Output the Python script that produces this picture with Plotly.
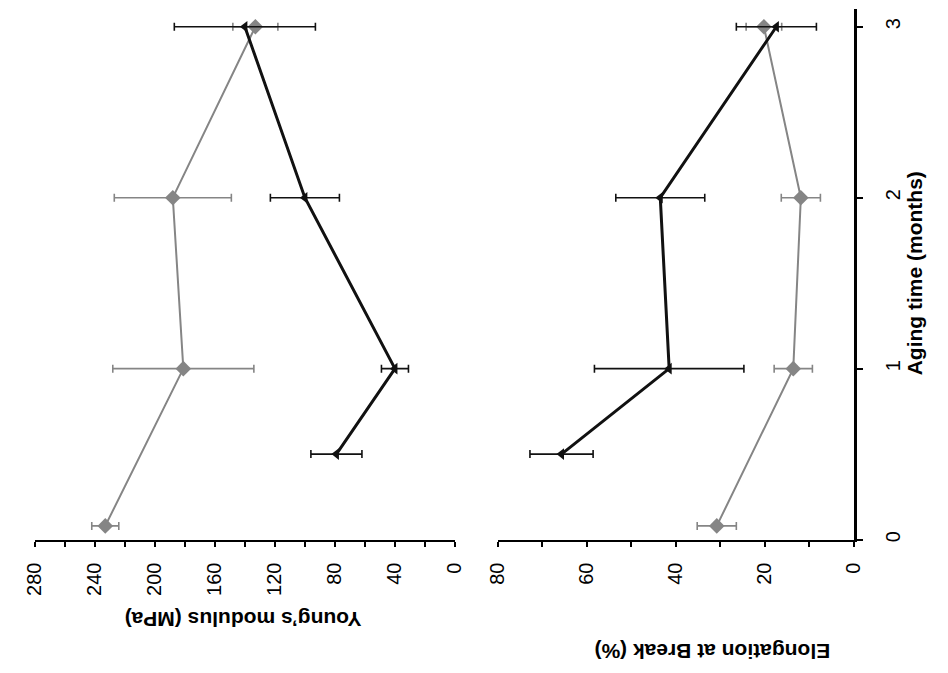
import plotly.graph_objects as go

# Aging time (months) for each series
t_gray = [0.08, 1, 2, 3]
t_black = [0.5, 1, 2, 3]

# Young's modulus (MPa) with standard deviations
ym_gray = [233, 181, 188, 133]
ym_gray_err = [9, 47, 39, 15]
ym_black = [79, 40, 100, 140]
ym_black_err = [17, 9, 23, 47]

# Elongation at break (%) with standard deviations
eb_gray = [30.8, 13.6, 11.9, 20.2]
eb_gray_err = [4.4, 4.3, 4.4, 4.0]
eb_black = [65.7, 41.5, 43.5, 17.4]
eb_black_err = [7.1, 16.8, 10.0, 9.0]

ym_ticks = [0, 40, 80, 120, 160, 200, 240, 280]
eb_ticks = [0, 20, 40, 60, 80]
t_ticks = [0, 1, 2, 3]

GRAY = "#858585"
BLACK = "#111111"
FONT = "Liberation Sans"

W, H = 948, 673


def series(x, err, t, color, symbol, size, lw, xa):
    return go.Scatter(
        x=x, y=t, xaxis=xa, yaxis="y",
        mode="lines+markers",
        line=dict(color=color, width=lw),
        marker=dict(symbol=symbol, size=size, color=color),
        error_x=dict(type="data", array=err, visible=True,
                     color=color, thickness=1.6, width=4),
        showlegend=False,
    )


fig = go.Figure()
fig.add_trace(series(ym_gray, ym_gray_err, t_gray, GRAY, "diamond", 12, 2, "x"))
fig.add_trace(series(ym_black, ym_black_err, t_black, BLACK, "triangle-left", 10, 3, "x"))
fig.add_trace(series(eb_gray, eb_gray_err, t_gray, GRAY, "diamond", 12, 2, "x2"))
fig.add_trace(series(eb_black, eb_black_err, t_black, BLACK, "triangle-left", 10, 3, "x2"))

tickfont = dict(family=FONT, size=20, color="black")
value_axis = dict(
    showline=True, linecolor="black", linewidth=2,
    ticks="outside", ticklen=5, tickwidth=1.5, tickcolor="black",
    tickangle=-90, tickfont=tickfont, ticklabelstandoff=8,
    showgrid=False, zeroline=False, anchor="y",
)

fig.update_layout(
    width=W, height=H,
    margin=dict(l=0, r=0, t=0, b=0),
    paper_bgcolor="white", plot_bgcolor="white",
    showlegend=False,
    xaxis=dict(value_axis, domain=[23.3 / W, 454 / W], range=[280, 0],
               tickvals=ym_ticks,
               minor=dict(ticks="outside", dtick=20, ticklen=5,
                          tickwidth=1.5, tickcolor="black")),
    xaxis2=dict(value_axis, domain=[498 / W, 862.7 / W], range=[80, 0],
                tickvals=eb_ticks,
                minor=dict(ticks="outside", dtick=10, ticklen=5,
                           tickwidth=1.5, tickcolor="black")),
    yaxis=dict(domain=[(H - 542) / H, (H - 9) / H], range=[0, 3.104],
               tickvals=t_ticks, side="right", anchor="x2",
               showline=True, linecolor="black", linewidth=2.5,
               ticks="outside", ticklen=6, tickwidth=1.5, tickcolor="black",
               tickangle=-90, tickfont=tickfont, ticklabelstandoff=13,
               showgrid=False, zeroline=False),
)

title_font = dict(family=FONT, size=21, color="black")
for text, angle, cx, cy in [
    ("<b>Young’s modulus (MPa)</b>", 180, 237, 623),
    ("<b>Elongation at Break (%)</b>", 180, 718, 655),
    ("<b>Aging time (months)</b>", -90, 925, 275),
]:
    fig.add_annotation(text=text, textangle=angle,
                       x=cx / W, y=(H - cy) / H, xref="paper", yref="paper",
                       xanchor="center", yanchor="middle",
                       showarrow=False, font=title_font)

fig.write_html("out.html")
